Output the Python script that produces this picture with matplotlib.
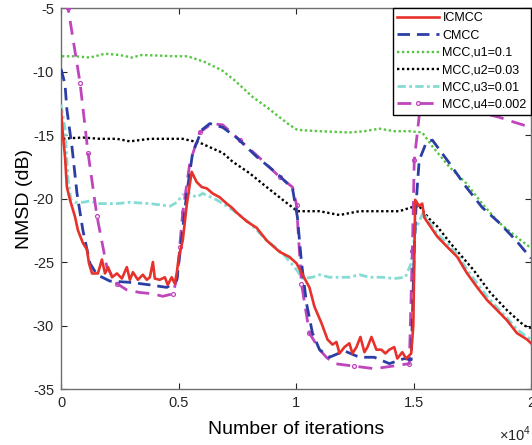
import matplotlib
matplotlib.use("Agg")
import matplotlib.pyplot as plt
from matplotlib.ticker import FuncFormatter

plt.rcParams['font.family'] = ['Liberation Sans', 'DejaVu Sans']
plt.rcParams['mathtext.fontset'] = 'custom'
plt.rcParams['mathtext.rm'] = 'Liberation Sans'
plt.rcParams['axes.unicode_minus'] = False

# ---- data (iterations, dB) ----
icmcc_x = [0, 80, 170, 250, 380, 590, 720, 930, 1100, 1190, 1320, 1570, 1740, 1870, 2000,
           2170, 2380, 2590, 2800, 2930, 3060, 3270, 3480, 3650, 3780, 3910, 3990, 4200,
           4420, 4540, 4710, 4840, 4930, 5010, 5180, 5350, 5560, 5770, 5990, 6200, 6450,
           6750, 7050, 7260, 7470, 7900, 8320, 8750, 9300, 9720, 10020, 10280, 10570,
           10780, 11080, 11340, 11550, 11720, 11850, 12060, 12270, 12400, 12570, 12740,
           12910, 13040, 13210, 13420, 13630, 13800, 13970, 14180, 14310, 14520, 14690,
           14900, 14990, 15070, 15240, 15370, 15460, 16010, 16430, 16860, 17280, 17710,
           18130, 18560, 18980, 19400, 19830, 20000]
icmcc_y = [-13.0, -15.0, -16.7, -19.1, -20.1, -21.4, -22.5, -23.5, -24.0, -25.1, -25.9, -25.9,
           -24.8, -25.9, -25.4, -26.2, -25.9, -26.3, -25.4, -26.4, -25.8, -26.4, -26.0, -26.4,
           -26.2, -25.0, -26.3, -26.4, -26.2, -26.8, -26.2, -26.7, -25.8, -24.6, -23.3, -20.5,
           -17.9, -18.7, -19.1, -19.2, -19.6, -19.9, -20.4, -20.7, -21.1, -21.8, -22.3, -23.3,
           -24.2, -24.6, -25.1, -26.0, -27.0, -28.5, -29.8, -31.1, -31.5, -31.3, -32.2, -31.7,
           -31.4, -32.2, -31.7, -30.9, -32.1, -31.7, -30.9, -31.9, -31.9, -32.2, -31.9, -31.7,
           -32.6, -32.1, -32.6, -32.2, -30.0, -20.1, -20.6, -20.4, -21.5, -23.0, -23.8, -24.6,
           -25.9, -27.0, -28.0, -28.8, -29.6, -30.6, -31.1, -31.4]

cmcc_x = [0, 170, 250, 470, 680, 930, 1230, 1530, 2080, 2930, 3780, 4500, 4840, 4930, 5140,
          5350, 5600, 5990, 6330, 6880, 7470, 8320, 9170, 9850, 10060, 10230, 10450, 10700,
          11000, 11420, 12060, 12700, 13330, 13970, 14610, 14900, 15030, 15120, 15240, 15540,
          15800, 16520, 17240, 17920, 18640, 19360, 20000]
cmcc_y = [-9.8, -11.0, -13.0, -16.0, -19.6, -22.5, -25.1, -26.0, -26.5, -26.6, -26.8, -27.0,
          -26.6, -26.4, -23.0, -19.6, -16.4, -14.6, -14.1, -14.4, -15.2, -16.7, -18.0, -19.2,
          -21.5, -25.0, -28.3, -30.6, -31.9, -32.5, -32.0, -32.5, -32.5, -33.0, -32.6, -32.7,
          -24.1, -20.1, -17.0, -15.6, -15.4, -17.2, -19.1, -20.7, -21.9, -23.3, -24.7]

u1_x = [40, 590, 1230, 1870, 2500, 3010, 3440, 4200, 4840, 5390, 6110, 6840, 7390, 8150,
        8750, 9300, 9720, 10060, 11000, 12270, 12910, 13540, 14180, 14820, 15370, 15800,
        16520, 17240, 17920, 18640, 19360, 20000]
u1_y = [-8.8, -8.8, -8.9, -8.6, -8.7, -8.9, -8.7, -8.75, -8.8, -8.8, -9.25, -9.9, -10.7,
        -12.0, -12.8, -13.6, -14.2, -14.6, -14.7, -14.8, -14.7, -14.5, -14.7, -14.7, -14.8,
        -15.9, -17.5, -18.8, -20.4, -21.9, -23.0, -23.9]

u2_x = [85, 380, 930, 1660, 2380, 2930, 3780, 5180, 5900, 6620, 6880, 7300, 8020, 8750,
        9430, 10060, 11000, 11850, 12700, 13540, 14390, 14900, 15240, 15670, 16010, 16560,
        17540, 18260, 18980, 19700, 20000]
u2_y = [-15.3, -15.25, -15.2, -15.3, -15.3, -15.5, -15.3, -15.3, -15.6, -16.2, -16.4, -17.1,
        -18.0, -19.1, -20.1, -21.0, -21.0, -21.3, -21.0, -21.0, -21.0, -20.7, -20.6, -21.6,
        -22.2, -23.5, -25.6, -27.4, -28.8, -30.0, -30.2]

u3_x = [0, 170, 300, 420, 600, 930, 1200, 1660, 2380, 2930, 3780, 4200, 4650, 4930, 5180,
        5470, 5770, 6030, 6620, 7300, 8020, 8750, 9430, 10020, 10280, 10700, 11000, 11420,
        12270, 12700, 13120, 13670, 14180, 14650, 14900, 15070, 15410, 16010, 16430, 16860,
        17280, 17710, 18130, 18560, 18980, 19400, 19830, 20000]
u3_y = [-12.6, -14.5, -18.5, -20.1, -20.3, -20.3, -20.2, -20.4, -20.4, -20.3, -20.4, -20.5,
        -20.6, -20.3, -19.7, -19.6, -19.9, -19.6, -20.1, -20.9, -21.9, -23.3, -24.3, -25.6,
        -26.3, -26.2, -26.0, -26.2, -26.2, -26.0, -26.2, -26.2, -26.3, -26.2, -25.1, -22.5,
        -21.1, -22.8, -23.5, -24.4, -25.6, -26.7, -27.7, -28.6, -29.4, -30.3, -30.9, -31.1]

u4_x = [0, 300, 810, 1150, 1530, 1950, 2380, 2800, 3350, 3910, 4330, 4760, 4970, 5050, 5180,
        5480, 5900, 6410, 6880, 7600, 8450, 9300, 9850, 10020, 10230, 10570, 11000, 11290,
        11630, 12480, 13330, 14100, 14820, 14950, 15030, 15240, 15540, 16000, 17000, 18000,
        18640, 19300, 20000]
u4_y = [-1.6, -5.0, -10.9, -16.4, -21.4, -25.4, -26.7, -27.2, -27.4, -27.5, -27.7, -27.5,
        -26.0, -23.8, -21.1, -17.2, -14.8, -14.1, -14.2, -15.4, -16.8, -18.3, -19.1, -20.5,
        -26.7, -30.6, -31.9, -32.5, -33.0, -33.2, -33.4, -33.2, -33.0, -24.1, -17.0, -13.5,
        -12.6, -12.6, -12.9, -13.3, -13.6, -14.0, -14.4]

fig = plt.figure(figsize=(5.32, 4.45), dpi=100)
ax = fig.add_axes([0.1147, 0.1258, 0.8835, 0.8562])

ax.plot(u1_x, u1_y, color='#55c640', lw=1.7, dashes=(1, 1.1), label='MCC,u1=0.1', zorder=2)
ax.plot(u2_x, u2_y, color='black', lw=1.7, dashes=(1, 1.1), label='MCC,u2=0.03', zorder=2)
ax.plot(u3_x, u3_y, color='#84dcd4', lw=2.0, dashes=(3, 1.2, 1, 1.2), label='MCC,u3=0.01', zorder=3)
ax.plot(u4_x, u4_y, color='#bf45bd', lw=2.0, dashes=(5, 3), marker='o', ms=2.8, mfc='none',
        mew=0.9, markevery=0.09, label='MCC,u4=0.002', zorder=3)
ax.plot(cmcc_x, cmcc_y, color='#2b3ea5', lw=2.0, dashes=(4.5, 2.5), label='CMCC', zorder=4)
ax.plot(icmcc_x, icmcc_y, color='#e6322a', lw=1.9, label='ICMCC', zorder=5)

ax.set_xlim(0, 20000)
ax.set_ylim(-35, -5)
ax.set_xticks([0, 5000, 10000, 15000, 20000])
ax.set_yticks([-35, -30, -25, -20, -15, -10, -5])
ax.xaxis.set_major_formatter(FuncFormatter(lambda v, p: '%g' % (v / 1e4)))
ax.tick_params(direction='in', length=4, width=0.8, top=True, right=True,
               labelsize=10.5, colors='#262626', pad=5)
for s in ax.spines.values():
    s.set_color('#6e6e6e')
    s.set_linewidth(1.0)

ax.set_xlabel('Number of iterations', fontsize=14, labelpad=8)
ax.set_ylabel('NMSD (dB)', fontsize=14, labelpad=0)
ax.text(1.0, -0.118, r'$\times 10^{4}$', transform=ax.transAxes, ha='right', va='center',
        fontsize=10.5, color='#262626')

handles, labels = ax.get_legend_handles_labels()
order = ['ICMCC', 'CMCC', 'MCC,u1=0.1', 'MCC,u2=0.03', 'MCC,u3=0.01', 'MCC,u4=0.002']
hmap = dict(zip(labels, handles))
leg = ax.legend([hmap[k] for k in order], order, loc='upper right', bbox_to_anchor=(1, 1),
                borderaxespad=0, fontsize=9, handlelength=3.3, handletextpad=0.3,
                labelspacing=0.42, borderpad=0.35, fancybox=False, framealpha=1,
                edgecolor='black')
leg.get_frame().set_linewidth(1.0)
leg.set_zorder(10)

fig.savefig('out.png', dpi=100)
